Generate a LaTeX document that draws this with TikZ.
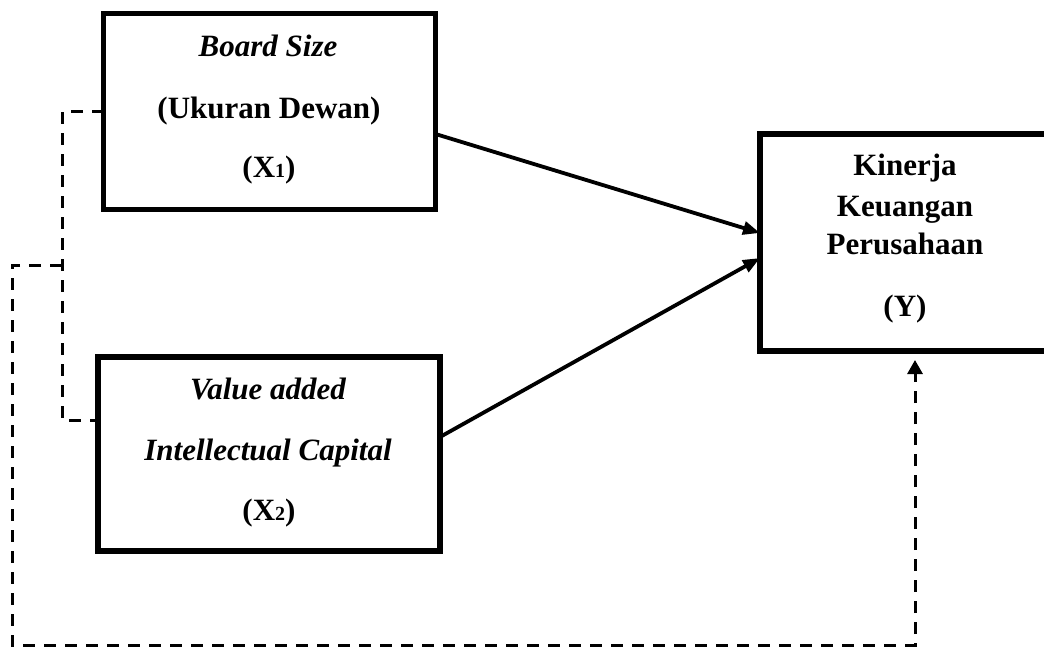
\documentclass[tikz,border=0pt]{standalone}
\usepackage{fontspec}
\setmainfont{Liberation Serif}
\usetikzlibrary{arrows.meta,calc}
\begin{document}
\begin{tikzpicture}[x=1pt,y=-1pt,
  box/.style={draw, line width=5.5pt, inner sep=0pt, outer sep=0pt},
  lbl/.style={anchor=base, inner sep=0pt, font=\fontsize{31}{37}\selectfont\bfseries},
  lbli/.style={anchor=base, inner sep=0pt, font=\fontsize{31}{37}\selectfont\bfseries\itshape},
  arr/.style={line width=3.8pt, -{Triangle[length=17pt,width=13pt]}},
  dsh/.style={line width=3pt, dash pattern=on 12pt off 9pt},
]
\useasboundingbox (0,0) rectangle (1044,648);
\clip (0,0) rectangle (1044,648);
% boxes
\node[box, minimum width=332pt, minimum height=196pt] (x1) at (269.5,111.5) {};
\node[box, minimum width=342pt, minimum height=194pt] (x2) at (269,454) {};
\node[box, minimum width=290pt, minimum height=217pt] (y) at (905,242.5) {};
% texts
\node[lbli] (t1a) at (268,56) {Board Size};
\node[lbl] (t1b) at (269,118) {(Ukuran Dewan)};
\node[lbl] (t1c) at (269,177) {(X{\fontsize{20}{20}\selectfont 1})};
\node[lbli] (t2a) at (268,399) {Value added};
\node[lbli] (t2b) at (268,460) {Intellectual Capital};
\node[lbl] (t2c) at (269,520) {(X{\fontsize{20}{20}\selectfont 2})};
\node[lbl] (t3a) at (905,175) {Kinerja};
\node[lbl] (t3b) at (905,216) {Keuangan};
\node[lbl] (t3c) at (905,254) {Perusahaan};
\node[lbl] (t3d) at (905,316) {(Y)};
% solid arrows
\draw[arr] ($(x1.east)+(0,22.5)$) -- ($(y.west)+(0,-9.5)$);
\draw[arr] ($(x2.east)+(0,-17)$) -- ($(y.west)+(0,15.5)$);
% dashed connectors
\coordinate (a1) at ($(x1.west)+(-41.5,0)$);
\coordinate (a2) at ($(x2.west)+(-36,-34)$);
\draw[dsh] (x1.west) -- (a1) -- (a2) -- ($(x2.west)+(0,-34)$);
\coordinate (j) at (62,265);
\coordinate (c1) at (12,265);
\coordinate (c2) at (12,645);
\coordinate (c3) at (915,645);
\draw[dsh, -{Triangle[length=14pt,width=15pt]}, shorten >=9pt] (j) -- (c1) -- (c2) -- (c3) -- (y.south -| c3);
\end{tikzpicture}
\end{document}
